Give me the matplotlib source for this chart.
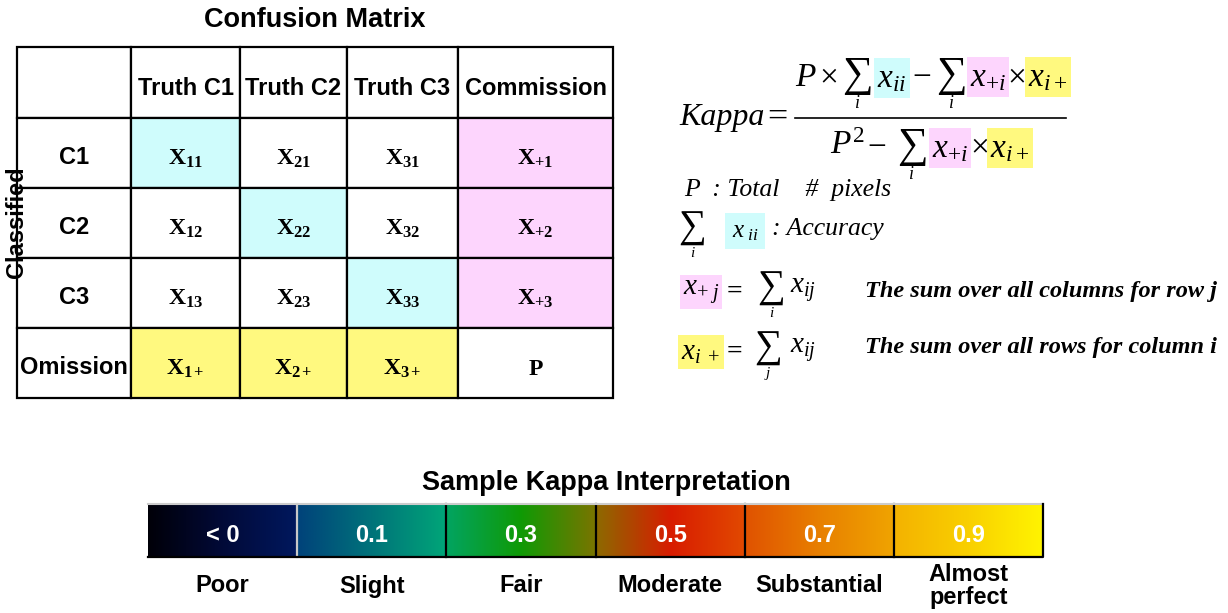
import numpy as np
import matplotlib.pyplot as plt
from matplotlib.patches import Rectangle
from matplotlib.colors import LinearSegmentedColormap

plt.rcParams['mathtext.fontset'] = 'custom'
plt.rcParams['mathtext.rm'] = 'Liberation Serif'
plt.rcParams['mathtext.it'] = 'Liberation Serif:italic'
plt.rcParams['mathtext.bf'] = 'Liberation Serif:bold'

SANS = 'Liberation Sans'
SERIF = 'Liberation Serif'

# confusion matrix content
col_headers = ['', 'Truth C1', 'Truth C2', 'Truth C3', 'Commission']
row_labels = ['C1', 'C2', 'C3', 'Omission']
cell_subs = [['11', '21', '31', '+1'],
             ['12', '22', '32', '+2'],
             ['13', '23', '33', '+3'],
             ['1+', '2+', '3+', 'P']]

CYAN = '#cffcfc'
PINK = '#fdd5fd'
YELLOW = '#fff97f'
cell_colors = [[CYAN, 'white', 'white', PINK],
               ['white', CYAN, 'white', PINK],
               ['white', 'white', CYAN, PINK],
               [YELLOW, YELLOW, YELLOW, 'white']]

# kappa interpretation scale
kappa_labels = ['< 0', '0.1', '0.3', '0.5', '0.7', '0.9']
kappa_names = ['Poor', 'Slight', 'Fair', 'Moderate', 'Substantial', 'Almost\nperfect']
kappa_stops = [['#000008', '#020a38', '#00185e'],
               ['#00427a', '#00737a', '#00a678'],
               ['#02a462', '#0f9a05', '#7a7400'],
               ['#8c6a00', '#d81c00', '#e24a00'],
               ['#e05200', '#e88000', '#f0a400'],
               ['#f4b200', '#f9d000', '#fff500']]

# layout (pixels)
col_w = [114, 109, 107, 111, 155]
row_h = [71, 70, 70, 70, 70]
tx0, ty0 = 17, 47

fig = plt.figure(figsize=(12.28, 6.13), dpi=100)
ax = fig.add_axes([0, 0, 1, 1])

xs = np.concatenate([[tx0], tx0 + np.cumsum(col_w)])
ys = np.concatenate([[ty0], ty0 + np.cumsum(row_h)])

# table cells
for r in range(5):
    for c in range(5):
        if r > 0 and c > 0:
            fc = cell_colors[r - 1][c - 1]
        else:
            fc = 'white'
        ax.add_patch(Rectangle((xs[c], ys[r]), col_w[c], row_h[r], facecolor=fc,
                               edgecolor='black', lw=1.6, zorder=1))
        cx, cy = xs[c] + col_w[c] / 2, ys[r] + row_h[r] / 2
        if r == 0 and c > 0:
            ax.text(cx, cy + 6, col_headers[c], ha='center', va='center', fontsize=17,
                    fontweight='bold', family=SANS, zorder=3)
        elif c == 0 and r > 0:
            ax.text(cx, cy + 4, row_labels[r - 1], ha='center', va='center', fontsize=17,
                    fontweight='bold', family=SANS, zorder=3)
        elif r > 0 and c > 0:
            s = cell_subs[r - 1][c - 1]
            lab = r'$\mathbf{P}$' if s == 'P' else r'$\mathbf{X_{%s}}$' % s
            ax.text(cx, cy + 5, lab, ha='center', va='center', fontsize=17, zorder=3)

ax.text((xs[0] + xs[-1]) / 2, 20, 'Confusion Matrix', ha='center', va='center',
        fontsize=19.5, fontweight='bold', family=SANS)
ax.text(tx0, 222, 'Classified', rotation=90, ha='center', va='center', fontsize=17,
        fontweight='bold', family=SANS, zorder=4)

# kappa formula
F = 24
def sig(x, y, sub, size=31, subsize=13):
    ax.text(x, y, '\u2211', ha='center', va='center', fontsize=size, family=SERIF)
    ax.text(x, y + size * 0.9, sub, ha='center', va='center', fontsize=subsize,
            family=SERIF, style='italic')

def hl(x, y, s, color, size=F, pad=0.1):
    ax.text(x, y, s, ha='center', va='center', fontsize=size,
            bbox=dict(boxstyle='square,pad=%g' % pad, facecolor=color, edgecolor='none'))

ax.text(679, 117, 'Kappa', ha='left', va='center', fontsize=23, family=SERIF, style='italic')
ax.text(777, 118, '=', ha='center', va='center', fontsize=26, family=SERIF)
ax.plot([795, 1066], [118, 118], color='black', lw=1.2)

ax.text(806, 76, '$P$', ha='center', va='center', fontsize=F)
ax.text(829, 78, '\u00d7', ha='center', va='center', fontsize=F, family=SERIF)
sig(857, 76, 'i')
hl(892, 78, '$x_{ii}$', CYAN)
ax.text(922, 78, '\u2212', ha='center', va='center', fontsize=F, family=SERIF)
sig(951, 76, 'i')
hl(988, 77, '$x_{+i}$', PINK)
ax.text(1017, 78, '\u00d7', ha='center', va='center', fontsize=F, family=SERIF)
hl(1048, 77, '$x_{i+}$', YELLOW)

ax.text(848, 145, '$P^2$', ha='center', va='center', fontsize=F)
ax.text(877, 148, '\u2212', ha='center', va='center', fontsize=F, family=SERIF)
sig(912, 147, 'i')
hl(950, 148, '$x_{+i}$', PINK)
ax.text(980, 148, '\u00d7', ha='center', va='center', fontsize=F, family=SERIF)
hl(1010, 148, '$x_{i+}$', YELLOW)

ax.text(684, 190, 'P  : Total    #  pixels', ha='left', va='center', fontsize=18.5,
        family=SERIF, style='italic')

# definitions
sig(692, 228, 'i', size=28, subsize=11)
hl(745, 231, r'$x_{\ ii}$', CYAN, size=18, pad=0.25)
ax.text(772, 229, ': Accuracy', ha='left', va='center', fontsize=18.5, family=SERIF,
        style='italic')

hl(701, 292, r'$x_{+\ j}$', PINK, size=21)
ax.text(735, 292, '=', ha='center', va='center', fontsize=20, family=SERIF, fontweight='bold')
sig(771, 288, 'i', size=28, subsize=11)
ax.text(803, 290, '$x_{ij}$', ha='center', va='center', fontsize=21)
ax.text(865, 292, 'The sum over all columns for row j', ha='left', va='center', fontsize=17.5,
        family=SERIF, style='italic', fontweight='bold')

hl(701, 352, r'$x_{i\ +}$', YELLOW, size=21)
ax.text(735, 352, '=', ha='center', va='center', fontsize=20, family=SERIF, fontweight='bold')
sig(768, 348, 'j', size=28, subsize=11)
ax.text(803, 350, '$x_{ij}$', ha='center', va='center', fontsize=21)
ax.text(865, 348, 'The sum over all rows for column i', ha='left', va='center', fontsize=17.5,
        family=SERIF, style='italic', fontweight='bold')

# kappa interpretation bar
bx0, bw, by0, bh = 148, 895 / 6, 504, 53
grad = np.linspace(0, 1, 256).reshape(1, -1)
for i in range(6):
    cmap = LinearSegmentedColormap.from_list('seg%d' % i, kappa_stops[i])
    left = bx0 + i * bw
    ax.imshow(grad, cmap=cmap, extent=(left, left + bw, by0 + bh, by0), aspect='auto',
              interpolation='bilinear', zorder=1)
    cx = left + bw / 2
    ax.text(cx, by0 + bh / 2 + 5, kappa_labels[i], ha='center', va='center', fontsize=17,
            fontweight='bold', family=SANS, color='white', zorder=3)
    ax.text(cx, 586, kappa_names[i], ha='center', va='center', fontsize=17,
            fontweight='bold', family=SANS, linespacing=1.0)
    if i > 0:
        ax.plot([left, left], [by0, by0 + bh], color='#c8c8c8' if i == 1 else 'black',
                lw=1.6, zorder=2)
ax.plot([bx0, bx0 + 6 * bw], [by0, by0], color='#cccccc', lw=1.5, zorder=2)
ax.plot([bx0, bx0 + 6 * bw, bx0 + 6 * bw], [by0 + bh, by0 + bh, by0], color='black',
        lw=1.6, zorder=2)
ax.text(606, 483, 'Sample Kappa Interpretation', ha='center', va='center', fontsize=19.5,
        fontweight='bold', family=SANS)

ax.set_xlim(0, 1228)
ax.set_ylim(613, 0)
ax.axis('off')
fig.savefig('out.png', dpi=100)
